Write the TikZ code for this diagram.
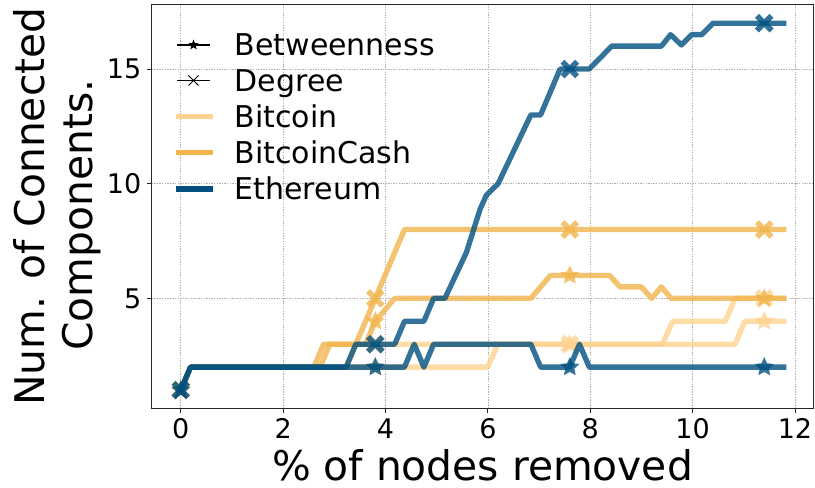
\documentclass[tikz,border=0pt]{standalone}
\usepackage{fontspec}
\setmainfont{DejaVu Sans}
\definecolor{btc}{RGB}{255,210,143}
\definecolor{bch}{RGB}{242,180,75}
\definecolor{eth}{RGB}{0,79,128}
\definecolor{gridgray}{RGB}{176,176,176}
\newcommand\xmk[3]{\draw[#3, line width=5.6bp, draw opacity=0.8, line cap=butt, shift={(#1,#2)}] (-7.3bp,-7.3bp) -- (7.3bp,7.3bp) (-7.3bp,7.3bp) -- (7.3bp,-7.3bp);}
\newcommand\stmk[3]{\fill[#3, fill opacity=0.8, shift={(#1,#2)}] (90:10bp) -- (126:4.8bp) -- (162:10bp) -- (198:4.8bp) -- (234:10bp) -- (270:4.8bp) -- (306:10bp) -- (342:4.8bp) -- (18:10bp) -- (54:4.8bp) -- cycle;}
\begin{document}
\begin{tikzpicture}[x=1bp,y=-1bp,
  series/.style={line width=5.3bp, line join=round, line cap=rect, draw opacity=0.8},
  gridline/.style={draw=gridgray, line width=0.7bp, dash pattern=on 1.3bp off 1.3bp},
  ticklab/.style={font=\fontsize{27bp}{32bp}\selectfont, inner sep=0pt},
  leglab/.style={font=\fontsize{30bp}{36bp}\selectfont, inner sep=0pt, anchor=base west},
  axlab/.style={font=\fontsize{40.8bp}{48bp}\selectfont, inner sep=0pt, anchor=base},
  legline/.style={line width=5.5bp, line cap=butt}]
\useasboundingbox (0,0) rectangle (815,488);
\fill[white] (0,0) rectangle (815,488);

\begin{scope}[shift={(180.8,413)}, x=51.18bp, y=22.93bp]
  % grid
  \foreach \gx in {0,2,...,12} \draw[gridline] (\gx,0.205) -- (\gx,17.79);
  \foreach \gy in {5,10,15} \draw[gridline] (-0.569,\gy) -- (12.358,\gy);
  % ticks
  \foreach \gx in {0,2,...,12} \draw[black!85, line width=0.9bp] (\gx,0.205) -- ++(0bp,-4.9bp);
  \foreach \gy in {5,10,15} \draw[black!85, line width=0.9bp] (-0.569,\gy) -- ++(-4.9bp,0bp);

  % Bitcoin betweenness
  \draw[series, btc] (0,1) -- (0.19,2) -- (6.0,2) -- (6.19,3) -- (10.83,3) -- (11.02,4) -- (11.78,4);
  \stmk{0}{1}{btc}\stmk{3.8}{2}{btc}\stmk{7.6}{3}{btc}\stmk{11.4}{4}{btc}
  % Bitcoin degree
  \draw[series, btc] (0,1) -- (0.19,2) -- (3.23,2) -- (3.42,3) -- (9.41,3) -- (9.61,4) -- (10.64,4) -- (10.83,5) -- (11.78,5);
  \xmk{0}{1}{btc}\xmk{3.8}{3}{btc}\xmk{7.6}{3}{btc}\xmk{11.4}{5}{btc}
  % BitcoinCash betweenness
  \draw[series, bch] (0,1) -- (0.19,2) -- (2.72,2) -- (2.91,3) -- (3.61,3) -- (3.8,4) -- (4.18,5) -- (6.84,5) -- (7.22,6) -- (8.38,6) -- (8.58,5.5) -- (9.0,5.5) -- (9.2,5) -- (9.39,5.5) -- (9.58,5) -- (11.78,5);
  \stmk{0}{1}{bch}\stmk{3.8}{4}{bch}\stmk{7.6}{6}{bch}\stmk{11.4}{5}{bch}
  % BitcoinCash degree
  \draw[series, bch] (0,1) -- (0.19,2) -- (2.6,2) -- (2.79,3) -- (3.42,3) -- (4.37,8) -- (11.78,8);
  \xmk{0}{1}{bch}\xmk{3.8}{5}{bch}\xmk{7.6}{8}{bch}\xmk{11.4}{8}{bch}
  % Ethereum betweenness
  \draw[series, eth] (0,1) -- (0.19,2) -- (4.37,2) -- (4.56,3) -- (4.75,2) -- (4.94,3) -- (6.84,3) -- (7.03,2) -- (7.6,2) -- (7.79,3) -- (7.98,2) -- (11.78,2);
  \stmk{0}{1}{eth}\stmk{3.8}{2}{eth}\stmk{7.6}{2}{eth}\stmk{11.4}{2}{eth}
  % Ethereum degree
  \draw[series, eth] (0,1) -- (0.19,2) -- (3.23,2) -- (3.42,3) -- (4.18,3) -- (4.37,4) -- (4.75,4) -- (4.94,5) -- (5.16,5) -- (5.58,7.0) -- (5.75,8.2) -- (5.85,8.9) -- (5.97,9.5) -- (6.2,10.0) -- (6.84,13) -- (7.03,13) -- (7.41,15) -- (7.98,15) -- (8.42,16) -- (9.39,16) -- (9.57,16.5) -- (9.78,16.05) -- (9.98,16.5) -- (10.18,16.5) -- (10.4,17) -- (11.78,17);
  \xmk{0}{1}{eth}\xmk{3.8}{3}{eth}\xmk{7.6}{15}{eth}\xmk{11.4}{17}{eth}
\end{scope}

% frame
\draw[black!85, line width=1bp] (151.7,5) rectangle (813.3,408.3);

% tick labels
\foreach \k in {0,2,...,12} {
  \pgfmathsetmacro\px{180.8+51.18*\k}
  \node[ticklab, anchor=base] (xt\k) at (\px,438.5) {\k};
}
\node[ticklab, anchor=base east] (yt5) at (141.5,308.1) {5};
\node[ticklab, anchor=base east] (yt10) at (141.5,193.5) {10};
\node[ticklab, anchor=base east] (yt15) at (141.5,78.8) {15};

% axis labels
\node[axlab] (xlab) at (482.5,480.5) {\% of nodes removed};
\node[axlab, rotate=90] (ylab1) at (44.5,206.7) {Num. of Connected};
\node[axlab, rotate=90] (ylab2) at (92,215) {Components.};

% legend
\draw[black, line width=1.5bp] (177,45) -- (210,45);
\fill[black, shift={(193.5,45)}] (90:5.5bp) -- (126:2.3bp) -- (162:5.5bp) -- (198:2.3bp) -- (234:5.5bp) -- (270:2.3bp) -- (306:5.5bp) -- (342:2.3bp) -- (18:5.5bp) -- (54:2.3bp) -- cycle;
\draw[black, line width=1.3bp] (177,80.5) -- (210,80.5);
\draw[black, line width=1bp] (188.5,75.5) -- (198.5,85.5) (188.5,85.5) -- (198.5,75.5);
\draw[legline, btc] (176,116.7) -- (213.3,116.7);
\draw[legline, bch] (176,152.3) -- (213.3,152.3);
\draw[legline, eth] (176,189) -- (213.3,189);
\node[leglab] (lbetw) at (234.5,55.8) {Betweenness};
\node[leglab] (ldeg) at (234.5,91.3) {Degree};
\node[leglab] (lbtc) at (234.5,127.5) {Bitcoin};
\node[leglab] (lbch) at (234.5,163.1) {BitcoinCash};
\node[leglab] (leth) at (234.5,199.8) {Ethereum};
\end{tikzpicture}
\end{document}
